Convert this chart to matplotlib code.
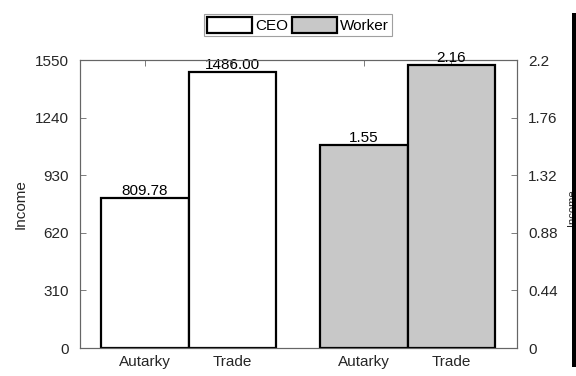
import matplotlib
matplotlib.use("Agg")
import matplotlib.pyplot as plt
from matplotlib.patches import Rectangle, Patch

plt.rcParams['font.family'] = ['Liberation Sans', 'DejaVu Sans']

# Data
categories = ["Autarky", "Trade"]
ceo_income = [809.78, 1486.00]
worker_income = [1.55, 2.16]
ceo_ticks = [0, 310, 620, 930, 1240, 1550]
worker_ticks = [0, 0.44, 0.88, 1.32, 1.76, 2.2]
ceo_labels = ["809.78", "1486.00"]
worker_labels = ["1.55", "2.16"]

W, H = 576, 376
fig = plt.figure(figsize=(W / 100, H / 100), dpi=100)

ax_l, ax_r, ax_t, ax_b = 80, 517, 60, 348
ax = fig.add_axes([ax_l / W, (H - ax_b) / H, (ax_r - ax_l) / W, (ax_b - ax_t) / H])
ax2 = ax.twinx()

spine_c = '#666666'
text_c = '#262626'
fs = 11

ceo_pos = [1, 2]
worker_pos = [3.5, 4.5]
bw = 1.0
edge_lw = 1.6

ceo_bars = ax.bar(ceo_pos, ceo_income, width=bw, color='white', edgecolor='black',
                  linewidth=edge_lw, zorder=2)
worker_bars = ax2.bar(worker_pos, worker_income, width=bw, color='#c8c8c8', edgecolor='black',
                      linewidth=edge_lw, zorder=2)

for x, v, s in zip(ceo_pos, ceo_income, ceo_labels):
    ax.text(x, v, s, ha='center', va='bottom', fontsize=fs, color='black', zorder=5)
for x, v, s in zip(worker_pos, worker_income, worker_labels):
    ax2.text(x, v, s, ha='center', va='bottom', fontsize=fs, color='black', zorder=5)

ax.set_xlim(1 - 65 / 88, 4.5 + 66 / 88)
ax.set_ylim(0, 1550)
ax2.set_ylim(0, 2.2)

ax.set_xticks(ceo_pos + worker_pos)
ax.set_xticklabels(categories + categories)
ax.set_yticks(ceo_ticks)
ax.set_yticklabels([str(t) for t in ceo_ticks])
ax2.set_yticks(worker_ticks)
ax2.set_yticklabels([f"{t:g}" for t in worker_ticks])

ax.tick_params(axis='x', direction='in', top=True, length=4, width=0.6, color=spine_c,
               labelsize=fs, labelcolor=text_c, pad=5)
ax.tick_params(axis='y', direction='in', right=False, length=4, width=0.6, color=spine_c,
               labelsize=fs, labelcolor=text_c, pad=8)
ax2.tick_params(axis='y', direction='in', length=4, width=0.6, color=spine_c,
                labelsize=fs, labelcolor=text_c, pad=8)

for a in (ax, ax2):
    for sp in a.spines.values():
        sp.set_color(spine_c)
        sp.set_linewidth(0.8)

ax.set_ylabel("Income", fontsize=fs, color=text_c, labelpad=5)

# Legend above the axes
handles = [Patch(facecolor='white', edgecolor='black', linewidth=edge_lw, label='CEO'),
           Patch(facecolor='#c8c8c8', edgecolor='black', linewidth=edge_lw, label='Worker')]
leg = fig.legend(handles=handles, loc='center', bbox_to_anchor=(298 / W, (H - 25) / H),
                 ncol=2, frameon=True, fancybox=False, fontsize=fs, handlelength=2.9,
                 handleheight=1.2, handletextpad=0.2, columnspacing=0.3,
                 borderpad=0.2, borderaxespad=0.0)
leg.get_frame().set_edgecolor('#888888')
leg.get_frame().set_linewidth(0.8)
for t in leg.get_texts():
    t.set_color('black')

# Right-hand label, mostly hidden under the edge bar
fig.text(567 / W, (H - 208) / H, "Income", rotation=90, ha='left', va='center',
         fontsize=8, color=text_c)
fig.patches.append(Rectangle((571.5 / W, (H - 367) / H), 6 / W, 354 / H,
                             transform=fig.transFigure, facecolor='black',
                             edgecolor='none', zorder=10))

fig.savefig("out.png", dpi=100)
